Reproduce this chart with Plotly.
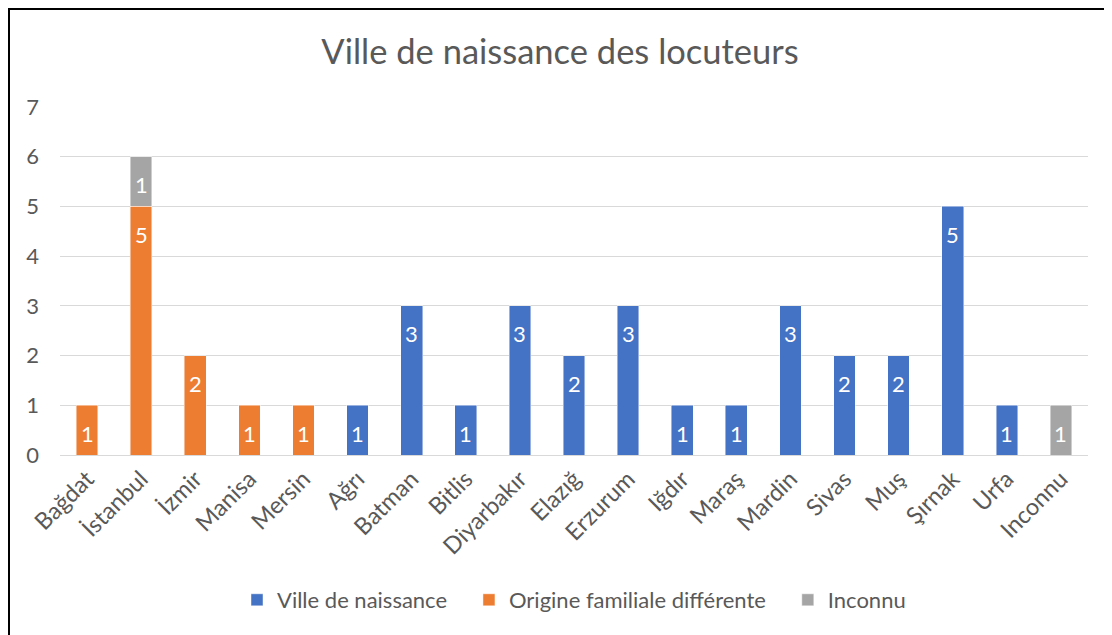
import plotly.graph_objects as go

categories = ["Bağdat", "İstanbul", "İzmir", "Manisa", "Mersin", "Ağrı", "Batman", "Bitlis",
              "Diyarbakır", "Elazığ", "Erzurum", "Iğdır", "Maraş", "Mardin", "Sivas", "Muş",
              "Şırnak", "Urfa", "Inconnu"]
ville = [0, 0, 0, 0, 0, 1, 3, 1, 3, 2, 3, 1, 1, 3, 2, 2, 5, 1, 0]
origine = [1, 5, 2, 1, 1, 0, 0, 0, 0, 0, 0, 0, 0, 0, 0, 0, 0, 0, 0]
inconnu = [0, 1, 0, 0, 0, 0, 0, 0, 0, 0, 0, 0, 0, 0, 0, 0, 0, 0, 1]

series_names = ["Ville de naissance", "Origine familiale différente", "Inconnu"]
series_values = [ville, origine, inconnu]
series_colors = ["#4472C4", "#ED7D31", "#A5A5A5"]

FONT = "Lato"
W, H = 1104, 627
L, R, T, B = 52, 24, 99, 180
PW, PH = W - L - R, H - T - B
PAD = "\u00a0" * 3

fig = go.Figure()
annotations = []
base = [0] * len(categories)
for k, (name, vals, col) in enumerate(zip(series_names, series_values, series_colors)):
    fig.add_trace(go.Bar(
        x=categories, y=[v if v else None for v in vals],
        name=name + (PAD if k < len(series_names) - 1 else ""),
        marker=dict(color=col, line=dict(color="rgba(255,255,255,0.6)", width=0.75)),
    ))
    for i, v in enumerate(vals):
        if v:
            top = base[i] + v
            annotations.append(dict(x=categories[i], y=top, xref="x", yref="y",
                                    text=str(v), showarrow=False, yanchor="middle",
                                    yshift=-28, font=dict(color="white", size=22, family=FONT)))
            base[i] = top

fig.update_layout(
    barmode="stack", bargap=0.6,
    width=W, height=H,
    margin=dict(l=L, r=R, t=T, b=B),
    paper_bgcolor="white", plot_bgcolor="white",
    font=dict(family=FONT, color="#595959"),
    title=dict(text="Ville de naissance des locuteurs", x=0.5, xanchor="center",
               y=1 - 44 / H, yanchor="middle", font=dict(size=34.5, color="#595959", family=FONT)),
    legend=dict(orientation="h", x=0.5, xanchor="center", y=-145 / PH, yanchor="middle",
                font=dict(size=22, color="#595959", family=FONT), traceorder="normal",
                itemwidth=30),
    annotations=annotations,
    shapes=[
        dict(type="line", xref="paper", yref="paper",
             x0=(1 - L) / PW, x1=(1 - L) / PW, y0=-1, y1=(PH + T - 0) / PH,
             line=dict(color="black", width=2)),
        dict(type="line", xref="paper", yref="paper",
             x0=(0 - L) / PW, x1=1.5, y0=(PH + T - 1) / PH, y1=(PH + T - 1) / PH,
             line=dict(color="black", width=2)),
    ],
)
fig.update_yaxes(range=[0, 7], dtick=1, showgrid=True, gridcolor="#D9D9D9", gridwidth=1,
                 zeroline=False, showline=False, ticklabelstandoff=20,
                 tickfont=dict(size=22, color="#595959", family=FONT))
fig.update_xaxes(tickangle=-45, showline=True, linecolor="#D9D9D9", linewidth=1,
                 tickfont=dict(size=23.5, color="#595959", family=FONT))

fig.write_html("out.html")
